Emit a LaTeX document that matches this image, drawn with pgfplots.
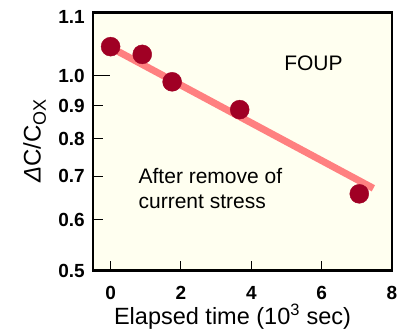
\documentclass[border=0pt]{standalone}
\usepackage{pgfplots}
\pgfplotsset{compat=1.18}
\usepackage{fontspec}
\setmainfont{Liberation Sans}
\definecolor{bgc}{HTML}{FFFFF0}
\definecolor{dotc}{HTML}{A00024}
\definecolor{linec}{HTML}{FF8080}
\begin{document}
\begin{tikzpicture}
\begin{axis}[
  at={(0pt,0pt)}, anchor=south west,
  scale only axis, width=299pt, height=258pt,
  xmin=-0.5, xmax=8, ymode=log, ymin=0.5, ymax=1.25,
  axis background/.style={fill=bgc},
  axis line style={line width=2.6pt},
  xtick={0,2,4,6,8}, xticklabels={0,2,4,6,8},
  ytick={0.5,0.6,0.7,0.8,0.9,1.25},
  yticklabels={0.5,0.6,0.7,0.8,0.9,\raisebox{-4pt}{1.1}},
  extra y ticks={1.0}, extra y tick labels={1.0},
  extra y tick style={major tick length=17pt},
  minor ytick={},
  xtick pos=bottom, ytick pos=left,
  tick align=inside, major tick length=10pt,
  tick style={line width=0.9pt, black},
  /pgf/number format/assume math mode=true,
  tick label style={font=\fontsize{19}{22}\selectfont\bfseries},
  xticklabel style={anchor=base, yshift=-28.3pt},
  yticklabel style={anchor=base east, inner sep=0pt, xshift=-8pt, yshift=-6.8pt},
  every axis x label/.style={at={(axis description cs:0.4666,-0.208)}, anchor=base, font=\fontsize{23.5}{26}\selectfont},
  every axis y label/.style={at={(axis description cs:-0.175,0.5035)}, anchor=base, rotate=90, font=\fontsize{24}{26}\selectfont},
  xlabel={Elapsed time (10\textsuperscript{3} sec)},
  ylabel={\textit{Δ}C/C\raisebox{-0.22em}{\fontsize{18}{18}\selectfont OX}},
  clip=false,
]
\addplot[linec, line width=7pt, no marks] coordinates {(0,1.105) (7.47,0.67)};
\addplot[only marks, mark=*, mark size=9.5pt, color=dotc] coordinates {(0,1.108) (0.9,1.078) (1.75,0.978) (3.67,0.886) (7.07,0.657)};
\node[anchor=base west, inner sep=0pt, font=\fontsize{21}{24}\selectfont] at (rel axis cs:0.639,0.775) {FOUP};
\node[anchor=base west, inner sep=0pt, font=\fontsize{21}{24}\selectfont] at (rel axis cs:0.152,0.339) {After remove of};
\node[anchor=base west, inner sep=0pt, font=\fontsize{21}{24}\selectfont] at (rel axis cs:0.152,0.242) {current stress};
\end{axis}
\pgfresetboundingbox
\path (-93pt,-62.3pt) rectangle (304pt,270.7pt);
\end{tikzpicture}
\end{document}
